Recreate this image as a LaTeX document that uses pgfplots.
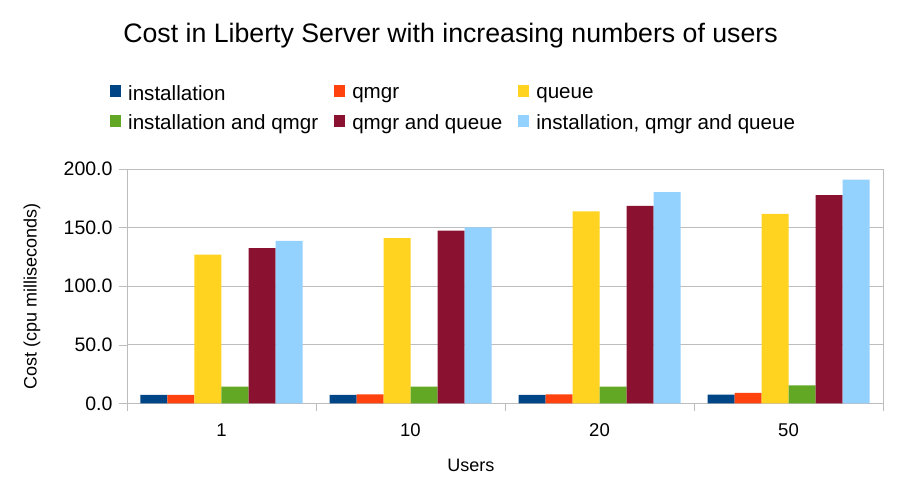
\documentclass[border=0pt]{standalone}
\usepackage{pgfplots}
\usepackage{pgfplotstable}
\pgfplotsset{compat=1.18}
\usepackage{fontspec}
\setmainfont{Liberation Sans}

% LibreOffice-ish palette
\definecolor{cInst}{HTML}{004586}
\definecolor{cQmgr}{HTML}{FF420E}
\definecolor{cQueue}{HTML}{FFD320}
\definecolor{cInstQ}{HTML}{62A824}
\definecolor{cQmQu}{HTML}{8A1230}
\definecolor{cAll}{HTML}{93D1FF}
\definecolor{gridgray}{HTML}{BDBDBD}

% users: 1, 10, 20, 50 -> x = 0..3
\pgfplotstableread{
x inst qmgr queue instq qmqu all
0 7.1  7.3  127.0 14.2  132.5 138.7
1 7.1  7.6  141.0 14.2  147.3 150.1
2 7.1  7.6  163.8 14.2  168.6 180.3
3 7.4  8.8  161.8 15.4  177.8 190.9
}\costdata

\begin{document}
\begin{tikzpicture}
\useasboundingbox (-127pt,-92.7pt) rectangle (775pt,403.3pt);
\begin{axis}[
    scale only axis,
    width=756pt, height=234.3pt,
    ybar=0pt, bar width=27pt,
    xmin=-0.5, xmax=3.5,
    ymin=0, ymax=200,
    xtick={0,1,2,3},
    xticklabels={1,10,20,50},
    minor xtick={-0.5,0.5,1.5,2.5,3.5},
    ytick={0,50,100,150,200},
    tick pos=left,
    tick align=outside,
    major tick length=8pt,
    minor tick length=8pt,
    major x tick style={draw=none},
    minor x tick style={draw=gridgray},
    ytick style={draw=gridgray},
    axis line style={draw=gridgray},
    ymajorgrids,
    major grid style={gridgray, line width=0.8pt},
    /pgf/number format/assume math mode=true,
    yticklabel style={font=\fontsize{19.5}{21}\selectfont, xshift=-3pt,
      /pgf/number format/.cd, fixed, fixed zerofill, precision=1},
    xticklabel style={font=\fontsize{18.5}{20}\selectfont, yshift=-9pt},
    title={Cost in Liberty Server with increasing numbers of users},
    title style={font=\fontsize{26.7}{30}\selectfont, anchor=base,
      at={(axis description cs:0.428,1.513)}},
    xlabel={Users},
    xlabel style={font=\fontsize{18}{20}\selectfont, anchor=center,
      at={(axis description cs:0.455,0)}, yshift=-62pt},
    ylabel={Cost (cpu milliseconds)},
    ylabel style={font=\fontsize{18}{20}\selectfont, anchor=center,
      at={(axis description cs:-0.1257,0.456)}},
    legend columns=3,
    legend cell align=left,
    legend style={draw=none, fill=none, inner sep=0pt,
      at={(axis description cs:-0.0225,1.367)}, anchor=north west,
      font=\fontsize{20.6}{23}\selectfont,
      row sep=9pt,
      /tikz/every odd column/.append style={column sep=5pt},
      /tikz/every even column/.append style={column sep=14pt}},
    legend image code/.code={\fill[#1] (0pt,-4pt) rectangle (11pt,8pt);},
]
  \addplot[fill=cInst, draw=none]  table[x=x, y=inst]  {\costdata};
  \addplot[fill=cQmgr, draw=none]  table[x=x, y=qmgr]  {\costdata};
  \addplot[fill=cQueue, draw=none] table[x=x, y=queue] {\costdata};
  \addplot[fill=cInstQ, draw=none] table[x=x, y=instq] {\costdata};
  \addplot[fill=cQmQu, draw=none]  table[x=x, y=qmqu]  {\costdata};
  \addplot[fill=cAll, draw=none]   table[x=x, y=all]   {\costdata};
  \legend{installation, qmgr, queue, installation and qmgr,
    qmgr and queue, {installation, qmgr and queue}}
\end{axis}
\end{tikzpicture}
\end{document}
